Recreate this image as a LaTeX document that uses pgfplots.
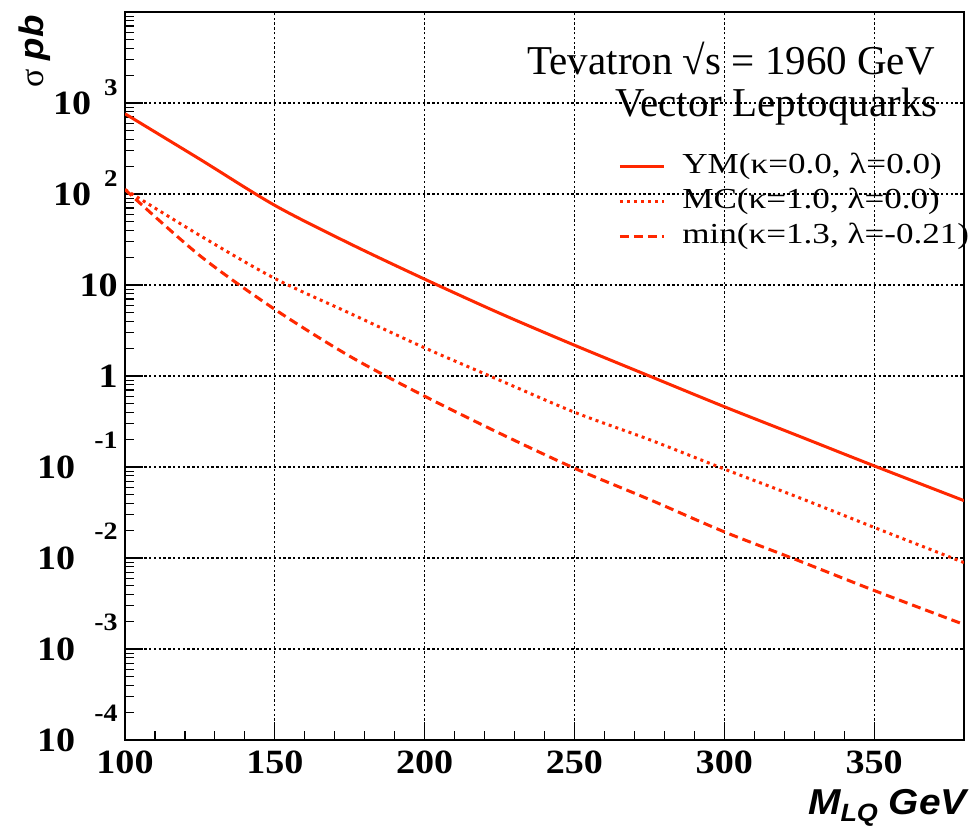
\documentclass[border=0pt]{standalone}
\usepackage{fontspec}
\setmainfont{Liberation Serif}
\newfontfamily\hv{Liberation Sans}[FakeStretch=1.08]
\newfontfamily\tickfont{Liberation Serif}[FakeStretch=1.12]
\newfontfamily\legfont{Liberation Serif}[FakeStretch=1.21]
\usepackage{pgfplots}
\pgfplotsset{compat=1.18}
\definecolor{lqred}{RGB}{255,40,0}

% ROOT-like log tick labels: base, gap, raised exponent
\newcommand{\tlp}[1]{10\hspace{6.5pt}\smash{\raisebox{9.5pt}{\fontsize{12}{12}\selectfont #1}}}
\newcommand{\tln}[1]{10\hspace{9.5pt}\smash{\raisebox{15pt}{\fontsize{12.5}{12}\selectfont #1}}}
\newcommand{\tlo}[1]{#1\hspace{14pt}}

\begin{document}
\begin{tikzpicture}
\useasboundingbox (0,0) rectangle (485.5pt,413pt);
\begin{axis}[
    name=ax,
    at={(62.5pt,43pt)}, anchor=south west,
    scale only axis, width=419.5pt, height=364pt,
    ymode=log,
    xmin=100, xmax=380, ymin=1e-4, ymax=1e4,
    xtick={100,150,200,250,300,350},
    xticklabels={100,150,200,250,300,350},
    minor x tick num=4,
    ytick={1e-4,1e-3,1e-2,1e-1,1,10,100,1000,10000},
    yticklabels={\tln{-4},\tln{-3},\tln{-2},\tln{-1},\tlo{1},\tlo{10},\tlp{2},\tlp{3},{}},
    tick pos=left, tick align=inside,
    major tick length=9pt, minor tick length=4.5pt,
    every tick/.style={black, line width=0.6pt},
    axis line style={line width=1pt},
    xmajorgrids, ymajorgrids,
    major grid style={black, line width=0.6pt, dash pattern=on 1.2pt off 1.2pt},
    xticklabel style={font=\tickfont\bfseries\fontsize{17}{17}\selectfont, anchor=north, inner sep=0pt, yshift=-5pt},
    yticklabel style={font=\tickfont\bfseries\fontsize{17}{17}\selectfont, anchor=east, inner sep=0pt, xshift=-3.5pt},
    legend style={at={(0.5876,0.809)}, anchor=north west, draw=none, fill=none,
        font=\legfont\fontsize{14.5}{14.5}\selectfont, row sep=2.5pt, column sep=8.5pt,
        inner sep=0pt, nodes={inner sep=0pt, text height=11pt, text depth=4pt}},
    legend cell align=left,
    legend image code/.code={\draw[#1] (0pt,0pt) -- (22pt,0pt);},
]
\addplot[lqred, line width=1.5pt, smooth] coordinates {
(100,762)(125,241)(150,75)(175,28.5)(200,11.6)(225,4.9)(250,2.18)
(275,1.0)(300,0.46)(325,0.218)(350,0.103)(380,0.0427)};
\addlegendentry{YM(κ=0.0, λ=0.0)}
\addplot[lqred, line width=1.5pt, dash pattern=on 1.5pt off 2pt, smooth] coordinates {
(100,112)(125,35)(150,11.8)(175,4.9)(200,2.04)(225,0.9)(250,0.40)
(275,0.2)(300,0.095)(325,0.046)(350,0.0217)(380,0.0089)};
\addlegendentry{MC(κ=1.0, λ=0.0)}
\addplot[lqred, line width=1.5pt, dash pattern=on 4.5pt off 2.5pt, smooth] coordinates {
(100,112)(125,21)(150,5.4)(175,1.65)(200,0.60)(225,0.235)(250,0.097)
(275,0.044)(300,0.0194)(325,0.0093)(350,0.0044)(380,0.00186)};
\addlegendentry{min(κ=1.3, λ=-0.21)}
\node[anchor=base east, inner sep=0pt, font=\fontsize{20.5}{20.5}\selectfont]
    at (rel axis cs:0.9655,0.9148) {Tevatron √s = 1960 GeV};
\node[anchor=base east, inner sep=0pt, font=\fontsize{20.5}{20.5}\selectfont]
    at (rel axis cs:0.969,0.857) {Vector Leptoquarks};
\end{axis}
\node[anchor=north east, inner sep=0pt, font=\hv\bfseries\itshape\fontsize{18}{18}\selectfont]
    at ([xshift=1.5pt,yshift=-24.5pt]ax.south east) {M\raisebox{-3.5pt}{\fontsize{12.5}{12.5}\selectfont LQ} GeV};
\node[rotate=90, anchor=north east, inner sep=0pt, font=\fontsize{17}{17}\selectfont]
    at ([xshift=-53.5pt,yshift=-1.5pt]ax.north west) {σ {\hv\bfseries\itshape pb}};
\end{tikzpicture}
\end{document}
